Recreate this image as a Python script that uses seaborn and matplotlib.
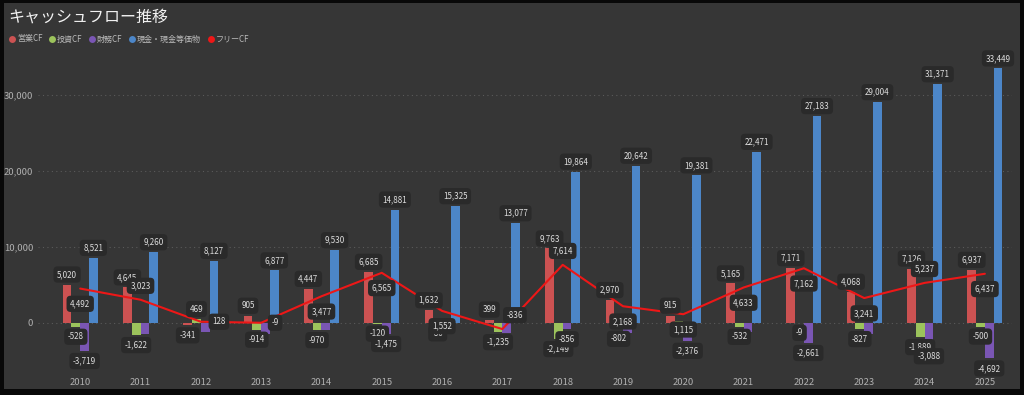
import pandas as pd
import matplotlib
matplotlib.use("Agg")
import matplotlib.pyplot as plt
from matplotlib.lines import Line2D
from matplotlib.patches import Rectangle
import seaborn as sns

# ---- data ----
years = ["2010", "2011", "2012", "2013", "2014", "2015", "2016", "2017",
         "2018", "2019", "2020", "2021", "2022", "2023", "2024", "2025"]
operating_cf = [5020, 4645, -341, 905, 4447, 6685, 1632, 399,
                9763, 2970, 915, 5165, 7171, 4068, 7126, 6937]
investing_cf = [-528, -1622, 469, -914, -970, -120, -80, -1235,
                -2149, -802, 200, -532, -9, -827, -1889, -500]
financing_cf = [-3719, -1500, -1200, -1500, -900, -1475, -700, -1300,
                -856, -1300, -2376, -1200, -2661, -1500, -3088, -4692]
cash = [8521, 9260, 8127, 6877, 9530, 14881, 15325, 13077,
        19864, 20642, 19381, 22471, 27183, 29004, 31371, 33449]
free_cf = [4492, 3023, 128, -9, 3477, 6565, 1552, -836,
           7614, 2168, 1115, 4633, 7162, 3241, 5237, 6437]

series_names = ["営業CF", "投資CF", "財務CF", "現金・現金等価物"]
line_name = "フリーCF"
# labels the original chart leaves out (overlapping ones)
hidden_labels = {
    "投資CF": ["2020"],
    "財務CF": ["2011", "2012", "2013", "2014", "2016", "2017", "2019", "2021", "2023"],
}
# where the free cf label sits relative to its point (points); default is below
fcf_label_offset = {"2011": (0, 10), "2018": (0, 10), "2024": (0, 10),
                    "2017": (9, 10), "2012": (13, 0), "2013": (10, 0)}

colors = {"営業CF": "#cc5252", "投資CF": "#9cc35c", "財務CF": "#7a56b4",
          "現金・現金等価物": "#4c86c8"}
line_color = "#ee1717"

# ---- build table ----
df = pd.DataFrame({
    "year": years * 4,
    "series": [s for s in series_names for _ in years],
    "value": operating_cf + investing_cf + financing_cf + cash,
})

sns.set_style("dark")
plt.rcParams["font.family"] = ["Noto Sans CJK JP", "DejaVu Sans"]

bg = "#363636"
fig = plt.figure(figsize=(10.24, 3.95), dpi=100, facecolor="#080808")
fig.patches.append(Rectangle((4 / 1024, 6 / 395), 1016 / 1024, 386 / 395,
                             transform=fig.transFigure, facecolor=bg,
                             edgecolor="none", zorder=-10))
ax = fig.add_axes([38 / 1024, 27 / 395, 974 / 1024, 318 / 395])
ax.set_facecolor(bg)

sns.barplot(data=df, x="year", y="value", hue="series", hue_order=series_names,
            palette=colors, width=0.58, saturation=1, legend=False, ax=ax,
            edgecolor="none", linewidth=0, zorder=2)

sns.pointplot(x=years, y=free_cf, color=line_color, marker="", linewidth=1.5,
              errorbar=None, ax=ax, zorder=4)

# bar value labels
box = dict(boxstyle="round,pad=0.45,rounding_size=0.5", fc="#2a2a2a", ec="none")
for name, cont in zip(series_names, ax.containers):
    vals = df.loc[df["series"] == name, "value"].tolist()
    hide = hidden_labels.get(name, [])
    labels = ["" if y in hide else f"{v:,}" for y, v in zip(years, vals)]
    ax.bar_label(cont, labels=labels, padding=4, fontsize=5.8, color="#dddddd",
                 bbox=box, zorder=6)

# free cash flow labels
pts = ax.lines[-1].get_xydata()
for (x, y), yr, v in zip(pts, years, free_cf):
    off = fcf_label_offset.get(yr, (0, -11))
    ax.annotate(f"{v:,}", (x, y), xytext=off, textcoords="offset points",
                ha="center", va="center", fontsize=5.8, color="#dddddd",
                bbox=box, zorder=7)

ax.set_xlim(-0.7, 15.45)
ax.set_ylim(-5960, 35880)
ax.set_yticks([0, 10000, 20000, 30000])
ax.yaxis.set_major_formatter(matplotlib.ticker.FuncFormatter(lambda v, p: f"{int(v):,}"))
ax.grid(axis="y", color="#5a5a5a", linestyle=(0, (1, 3)), linewidth=0.8, zorder=0)
ax.grid(axis="x", visible=False)
ax.set_axisbelow(True)
ax.tick_params(axis="both", length=0, colors="#b0b0b0", labelsize=6.8)
ax.tick_params(axis="x", pad=7)
ax.set_xlabel("")
ax.set_ylabel("")
for s in ax.spines.values():
    s.set_visible(False)

fig.text(8 / 1024, 1 - 17 / 395, "キャッシュフロー推移", fontsize=11.5,
         color="#f2f2f2", va="center", ha="left")

handles = [Line2D([], [], marker="o", linestyle="", markersize=5,
                  markerfacecolor=colors[s], markeredgecolor="none") for s in series_names]
handles.append(Line2D([], [], marker="o", linestyle="", markersize=5,
                      markerfacecolor=line_color, markeredgecolor="none"))
leg = fig.legend(handles, series_names + [line_name], loc="center left",
                 bbox_to_anchor=(4 / 1024, 1 - 39 / 395), ncol=5, frameon=False,
                 fontsize=5.8, handletextpad=0.1, columnspacing=0.7, borderpad=0,
                 handlelength=1.0)
for t in leg.get_texts():
    t.set_color("#bbbbbb")

fig.savefig("out.png", dpi=100, facecolor=fig.get_facecolor())
